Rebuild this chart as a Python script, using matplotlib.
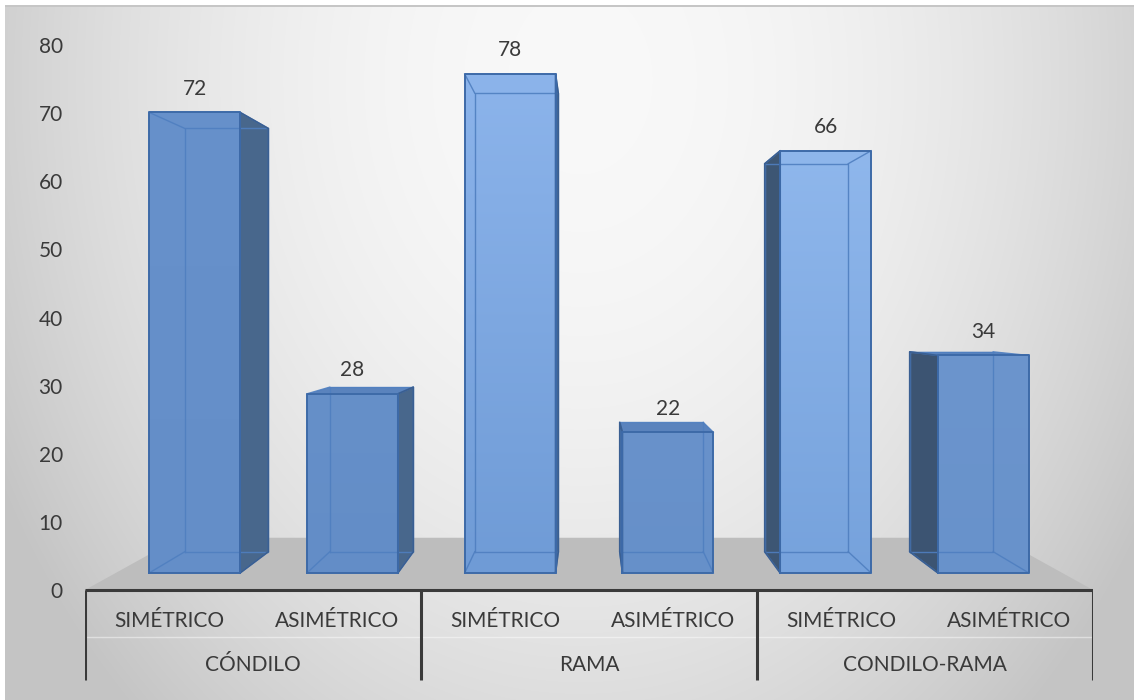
import numpy as np
import matplotlib
matplotlib.use('Agg')
import matplotlib.pyplot as plt
from matplotlib.patches import Polygon
from matplotlib.colors import to_rgb

plt.rcParams['font.family'] = ['Lato', 'DejaVu Sans']

groups = ["CÓNDILO", "RAMA", "CONDILO-RAMA"]
subcats = ["SIMÉTRICO", "ASIMÉTRICO"]
simetrico = [72, 78, 66]
asimetrico = [28, 22, 34]

values = []
for g in range(len(groups)):
    values += [simetrico[g], asimetrico[g]]

# fake 3d: vanishing point + depth scale (1 = floor front edge)
VPX, VPY = 2.5, 41.0
S_FRONT, S_BACK, S_FLOOR = 0.939, 0.863, 0.813
HALF_W = 0.288
TXT = '#3a3a3a'
FS = 15

# per bar look (excel lighting)
face_top = ['#6791cb', '#6690c9', '#8cb4eb', '#6992cb', '#8fb7ec', '#6c95cd']
face_bot = ['#648ec8', '#638dc7', '#6f9bd6', '#6690c9', '#76a2dc', '#6892cb']
side_col = ['#48678c', '#48678c', '#4a6a92', '#45638a', '#3d5674', '#3c5472']


def proj(x, v, s):
    return (VPX + s * (x - VPX), VPY + s * (v - VPY))


W, H = 1134, 700
fig = plt.figure(figsize=(W / 100, H / 100), dpi=100)

# background gradient
bg = fig.add_axes([0, 0, 1, 1])
bg.set_axis_off()
yy, xx = np.mgrid[0:H, 0:W]
u = (xx - 580) / 600
t = (yy - 80) / 700
shade = np.clip(0.975 - 0.17 * (u ** 2 + 0.8 * t ** 2), 0.77, 1)
rgb = np.dstack([shade] * 3)
rgb[:5, :, :] = 1
rgb[:, :5, :] = 1
rgb[5:7, 5:, :] = 0.78
bg.imshow(rgb, extent=(0, W, H, 0), aspect='auto', interpolation='bilinear')
bg.set_xlim(0, W)
bg.set_ylim(H, 0)

ax = fig.add_axes([85 / W, 0, 1008 / W, 1])
ax.patch.set_visible(False)
for sp in ax.spines.values():
    sp.set_visible(False)

n = len(values)
# floor
floor = [proj(-0.5, 0, 1), proj(n - 0.5, 0, 1),
         proj(n - 0.5, 0, S_FLOOR), proj(-0.5, 0, S_FLOOR)]
ax.add_patch(Polygon(floor, closed=True, fc='#bdbdbd', ec='none', zorder=1))

for i, v in enumerate(values):
    xl, xr = i - HALF_W, i + HALF_W
    F = [proj(xl, 0, S_FRONT), proj(xr, 0, S_FRONT), proj(xr, v, S_FRONT), proj(xl, v, S_FRONT)]
    B = [proj(xl, 0, S_BACK), proj(xr, 0, S_BACK), proj(xr, v, S_BACK), proj(xl, v, S_BACK)]

    # visible side face
    if i < VPX:
        side = [F[1], F[2], B[2], B[1]]
    else:
        side = [F[0], F[3], B[3], B[0]]
    ax.add_patch(Polygon(side, closed=True, fc=side_col[i], ec='none', zorder=2))
    # top face seen from above
    if v < VPY:
        top = [F[3], F[2], B[2], B[3]]
        ax.add_patch(Polygon(top, closed=True, fc='#5a83bd', ec='none', zorder=2))

    # front face with vertical gradient
    fpoly = Polygon(F, closed=True, fc='none', ec='none', zorder=3)
    ax.add_patch(fpoly)
    c0, c1 = np.array(to_rgb(face_top[i])), np.array(to_rgb(face_bot[i]))
    g = np.linspace(0, 1, 200)[:, None, None]
    arr = c0 * (1 - g) + c1 * g
    arr = np.repeat(arr, 2, axis=1)
    im = ax.imshow(arr, extent=(F[0][0], F[1][0], F[0][1], F[2][1]),
                   origin='upper', aspect='auto', zorder=3, interpolation='bilinear')
    im.set_clip_path(fpoly)

    # back edges and depth edges, seen through
    inner = '#4f7fc0'
    bx = [p[0] for p in B] + [B[0][0]]
    by = [p[1] for p in B] + [B[0][1]]
    ax.plot(bx, by, color=inner, lw=1.0, alpha=0.9, zorder=4)
    for a, b in zip(F, B):
        ax.plot([a[0], b[0]], [a[1], b[1]], color=inner, lw=1.0, alpha=0.9, zorder=4)
    # outline of side and top
    sx = [p[0] for p in side] + [side[0][0]]
    sy = [p[1] for p in side] + [side[0][1]]
    ax.plot(sx, sy, color='#3a5f92', lw=1.2, zorder=4)
    fx = [p[0] for p in F] + [F[0][0]]
    fy = [p[1] for p in F] + [F[0][1]]
    ax.plot(fx, fy, color='#3d6aa8', lw=1.4, zorder=5)

    tx, ty = proj(i, v, S_FRONT)
    ax.annotate(str(v), (tx, ty), xytext=(0, 17), textcoords='offset points',
                ha='center', va='center', fontsize=FS, color=TXT, zorder=6)

# category axis (two levels)
ax.plot([-0.5, n - 0.5], [0, 0], color=TXT, lw=2.2, zorder=6, solid_capstyle='butt')
ax.plot([-0.5, n - 0.5], [-6.9, -6.9], color='white', lw=1, alpha=0.45, zorder=6)
for k in range(len(groups) + 1):
    xg = -0.5 + 2 * k
    ax.plot([xg, xg], [0, -13.2], color=TXT, lw=2.2, zorder=6, solid_capstyle='butt')
for g, name in enumerate(groups):
    for j, sc in enumerate(subcats):
        ax.text(2 * g + j, -4.55, sc, ha='center', va='center', fontsize=FS, color=TXT)
    ax.text(2 * g + 0.5, -11.0, name, ha='center', va='center', fontsize=FS, color=TXT)

ax.set_xticks([])
ax.set_yticks(range(0, 81, 10))
ax.tick_params(axis='y', length=0, pad=16, labelsize=FS, labelcolor=TXT)
ax.set_xlim(-0.5, n - 0.5)
ax.set_ylim(-16.15, 86.61)

fig.savefig('out.png', dpi=100)
